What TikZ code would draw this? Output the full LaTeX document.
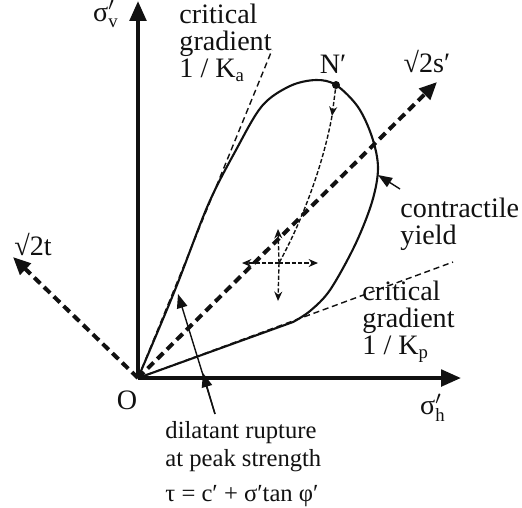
\documentclass[tikz,border=0pt]{standalone}
\usepackage{fontspec}
\setmainfont{Liberation Serif}
\usepackage{xcolor}
\definecolor{spink}{HTML}{111111}
\usepackage{tikz}
\usetikzlibrary{arrows.meta,positioning,calc}
\tikzset{
  spaxis/.style  ={line width=1.7pt, draw=spink, -{Triangle[length=8.5pt,width=7pt]}},
  spprin/.style  ={line width=1.7pt, draw=spink, dash pattern=on 3.6pt off 2.2pt,
                   -{Triangle[length=7.5pt,width=6.5pt]}},
  spgrad/.style  ={line width=0.6pt, draw=spink, dash pattern=on 2.6pt off 1.6pt},
  spyield/.style ={line width=0.9pt, draw=spink},
  sppath/.style  ={line width=0.6pt, draw=spink, dash pattern=on 1.8pt off 0.9pt},
  sppathar/.style={sppath, -{Stealth[length=4pt,width=3.4pt]}},
  sppoint/.style ={line width=0.6pt, draw=spink, -{Triangle[length=6pt,width=4.5pt]}},
  spdot/.style   ={circle, fill=spink, inner sep=0pt, minimum size=3.4pt},
  splbl/.style   ={font=\fontsize{12}{11.4}\selectfont, text=spink, inner sep=0pt, align=left},
  splblsm/.style ={splbl, font=\fontsize{10.5}{12}\selectfont},
}
\newcommand{\sgm}[1]{σ$'_{\mathrm{#1}}$}

\begin{document}
\begin{tikzpicture}[x=0.015cm, y=-0.015cm]
  \useasboundingbox (0,0) rectangle (522,507);
  \coordinate (O) at (138,378);
  \coordinate (vtop) at (138,1);
  \coordinate (htip) at (461,378);
  \coordinate (stip) at (437,82);
  \coordinate (ttip) at (13,257);
  \coordinate (Ka) at (272,50);
  \coordinate (Kp) at (453,262);
  % critical gradients
  \draw[spgrad] (O) -- (Ka);
  \draw[spgrad] (O) -- (Kp);
  % principal directions
  \draw[spprin] (O) -- (stip);
  \draw[spprin] (O) -- (ttip);
  % yield surface
  \draw[spyield] plot[smooth, tension=0.55] coordinates {(O) (175,290) (208,205)
    (236,150) (262,106) (290,86) (316,80) (336,85) (358,107) (372,137) (378,168)
    (372,202) (355,245) (330,290) (310,311) (293,322)} -- (O);
  % axes
  \draw[spaxis] (O) -- (vtop);
  \draw[spaxis] (O) -- (htip);
  % stress path from N'
  \node[spdot] (N) at (336,85) {};
  \coordinate (m1) at (332,116);
  \coordinate (X) at (279,263);
  \draw[sppathar] (N) -- (m1);
  \draw[sppath] (m1) .. controls (322,170) and (300,225) .. (X);
  \coordinate (Xl) at (242,263);
  \coordinate (Xr) at (318,263);
  \coordinate (Xu) at (278,229);
  \coordinate (Xd) at (278,301);
  \foreach \e in {Xl,Xr,Xu,Xd}{\draw[sppathar] (X) -- (\e);}
  % labels
  \node[splbl, anchor=base] (lblv) at (106,21) {\sgm{v}};
  \node[splbl, anchor=north west] (lblKa) at (179,4) {critical\\gradient\\1 / K\textsubscript{a}};
  \node[splbl] (lblN) at (333,64) {N′};
  \node[splbl] (lbls) at (427,62) {√2s′};
  \node[splbl] (lblt) at (33,244) {√2t};
  \node[splbl] (lblO) at (127,400) {O};
  \node[splbl] (lblh) at (433,408) {\sgm{h}};
  \node[splbl, anchor=north west] (lblcy) at (400,198) {contractile\\yield};
  \node[splbl, anchor=north west] (lblKp) at (362,281) {critical\\gradient\\1 / K\textsubscript{p}};
  \node[splblsm, anchor=north west] (lbldil) at (165,421) {dilatant rupture\\at peak strength\\[3pt]τ = c′ + σ′tan φ′};
  % pointers
  \coordinate (cyhead) at (378,175);
  \draw[sppoint] ($(lblcy.north west)+(0,-9)$) -- (cyhead);
  \coordinate (dtail) at (215,414);
  \draw[sppoint] (dtail) -- (178,294);
  \draw[sppoint] (dtail) -- (203,373);
\end{tikzpicture}
\end{document}
